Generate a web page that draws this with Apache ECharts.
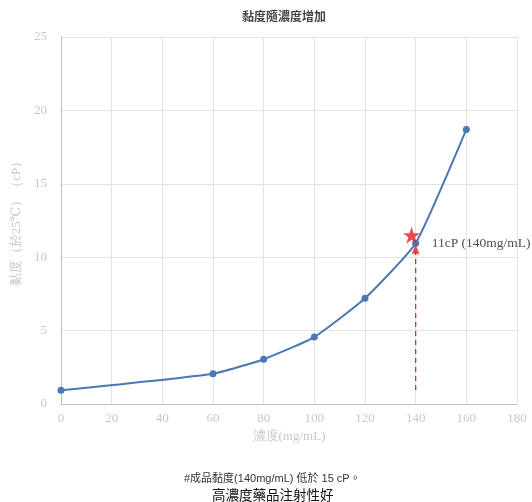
<!DOCTYPE html>
<html><head><meta charset="utf-8">
<script src="https://cdn.jsdelivr.net/npm/echarts@6/dist/echarts.min.js"></script>
<style>html,body{margin:0;padding:0;background:#fff}#c{width:532px;height:502px}</style>
</head><body><div id="c"></div>
<script>
const concentrations = [0, 60, 80, 100, 120, 140, 160];
const viscosity = [0.93, 2.06, 3.05, 4.56, 7.2, 10.95, 18.7];
const starPoint = [138.4, 11.5];
const trianglePoint = [140, 10.55];
const dashedLine = [[140, 0.95], [140, 10.4]];
const annotationPoint = [140, 10.95];
const annotationText = '11cP (140mg/mL)';
const titleText = '黏度隨濃度增加';
const xName = '濃度(mg/mL)';
const yName = '黏度（於25℃）（cP）';
const footnote1 = '#成品黏度(140mg/mL) 低於 15 cP。';
const footnote2 = '高濃度藥品注射性好';

const chart = echarts.init(document.getElementById('c'));
const serif = '"Liberation Serif","DejaVu Serif",serif';
const axisLabelColor = '#c8c8c8';
chart.setOption({
  animation: false,
  title: [
    {text: titleText, left: 237, top: 5, textStyle: {fontSize: 12, fontWeight: 'bold', color: '#444', fontFamily: '"Noto Sans CJK TC",sans-serif'}},
    {text: footnote1, left: 179, top: 468, textStyle: {fontSize: 11, fontWeight: 'normal', color: '#333', fontFamily: '"Liberation Sans","Noto Sans CJK TC",sans-serif'}},
    {text: footnote2, left: 207, top: 483, textStyle: {fontSize: 13.5, fontWeight: 'normal', color: '#111', fontFamily: '"Noto Sans CJK TC",sans-serif'}}
  ],
  grid: {left: 61, right: 15, top: 37, bottom: 98, containLabel: false, outerBoundsMode: 'none'},
  xAxis: {
    type: 'value', min: 0, max: 180, interval: 20,
    name: xName, nameLocation: 'middle', nameGap: 22,
    nameTextStyle: {color: axisLabelColor, fontSize: 13, fontFamily: serif},
    axisLine: {lineStyle: {color: '#bfbfbf'}},
    axisTick: {show: false},
    axisLabel: {color: axisLabelColor, fontSize: 13, fontFamily: serif, margin: 8},
    splitLine: {show: true, lineStyle: {color: '#e3e3e3'}}
  },
  yAxis: {
    type: 'value', min: 0, max: 25, interval: 5,
    name: yName, nameLocation: 'middle', nameGap: 37,
    nameTextStyle: {color: axisLabelColor, fontSize: 13, fontFamily: serif},
    axisLine: {show: true, lineStyle: {color: '#bfbfbf'}},
    axisTick: {show: false},
    axisLabel: {color: axisLabelColor, fontSize: 13, fontFamily: serif, margin: 14},
    splitLine: {show: true, lineStyle: {color: '#e3e3e3'}}
  },
  series: [
    {
      type: 'line', data: dashedLine, symbol: 'none',
      lineStyle: {color: '#c0392b', type: [5, 4], width: 1.3}, z: 1
    },
    {
      type: 'line', data: concentrations.map((x, i) => [x, viscosity[i]]),
      smooth: 0.15, symbol: 'circle', symbolSize: 7,
      itemStyle: {color: '#4a78b3'}, lineStyle: {color: '#4a78b3', width: 2}, z: 3
    },
    {
      type: 'scatter', data: [starPoint], symbol: 'path://M50,0 L61.8,35.1 L98.6,35.1 L68.8,57 L80.1,92 L50,70.4 L19.9,92 L31.2,57 L1.4,35.1 L38.2,35.1 Z',
      symbolSize: 17, itemStyle: {color: '#ee1c25'}, z: 4
    },
    {
      type: 'scatter', data: [trianglePoint], symbol: 'triangle', symbolSize: [8, 9],
      itemStyle: {color: '#ee1c25'}, z: 4
    },
    {
      type: 'scatter', data: [annotationPoint], symbolSize: 0,
      label: {show: true, position: 'right', distance: 16, formatter: annotationText,
        color: '#222', fontSize: 13.5, fontFamily: serif}, z: 5
    }
  ]
});
</script></body></html>
